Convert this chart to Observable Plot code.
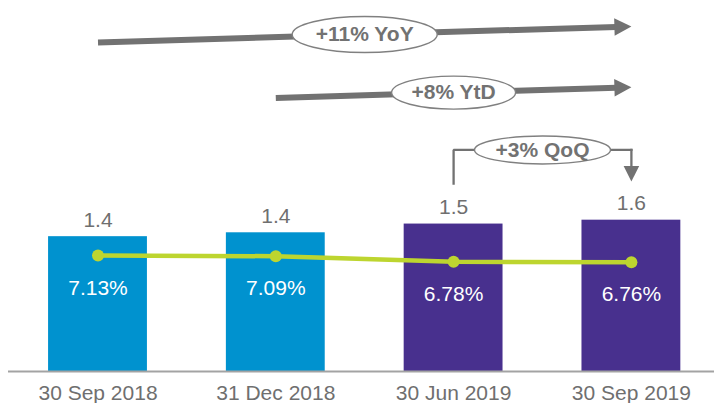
<!DOCTYPE html>
<html>
<head>
<meta charset="utf-8">
<script src="https://cdn.jsdelivr.net/npm/d3@7"></script>
<script src="https://cdn.jsdelivr.net/npm/@observablehq/plot@0.6"></script>
<style>
  html, body { margin: 0; padding: 0; background: #fff; }
  svg { display: block; }
</style>
</head>
<body>
<div id="chart"></div>
<script>
// ---- data ----
const categories = ["30 Sep 2018", "31 Dec 2018", "30 Jun 2019", "30 Sep 2019"];
const values = [1.39, 1.43, 1.52, 1.56];          // bar values (labels rounded to 1 dp)
const rates = [7.13, 7.09, 6.78, 6.76];            // line values, %

// trend annotations (from / to category index, start / end level on the bar axis)
const trendLabels = ["+11% YoY", "+8% YtD"];
const trendFrom = [0, 1];
const trendTo = [3, 3];
const trendStartY = [3.392, 2.820];
const trendEndY = [3.557, 2.931];

// quarter-on-quarter bracket
const qoqLabel = "+3% QoQ";
const qoqFrom = 2;
const qoqTo = 3;
const qoqStartY = 1.938;
const qoqLevel = 2.284;
const qoqTipY = 1.959;

// secondary (hidden) axis for the rate line, mapped onto the bar axis
const rateAxis = d3.scaleLinear().domain([0.72, 7.13]).range([0, 1.196]);

// ---- tables ----
const rows = categories.map((c, i) => ({
  i, category: c, year: c.slice(-4), value: values[i], rate: rates[i]
}));
const trends = trendLabels.map((label, k) => ({
  label, x1: trendFrom[k], x2: trendTo[k], y1: trendStartY[k], y2: trendEndY[k],
  mx: (trendFrom[k] + trendTo[k]) / 2, my: (trendStartY[k] + trendEndY[k]) / 2
}));
const qoqPath = [
  {x: qoqFrom, y: qoqStartY},
  {x: qoqFrom, y: qoqLevel},
  {x: qoqTo, y: qoqLevel}
];
const qoqBox = [{x: (qoqFrom + qoqTo) / 2, y: qoqLevel, label: qoqLabel}];
const qoqDrop = [{x1: qoqTo, y1: qoqLevel, x2: qoqTo, y2: qoqTipY}];

// ---- custom symbols ----
function ellipse(rx, ry) {
  const k = 0.5523;
  return {
    draw(c) {
      c.moveTo(rx, 0);
      c.bezierCurveTo(rx, k * ry, k * rx, ry, 0, ry);
      c.bezierCurveTo(-k * rx, ry, -rx, k * ry, -rx, 0);
      c.bezierCurveTo(-rx, -k * ry, -k * rx, -ry, 0, -ry);
      c.bezierCurveTo(k * rx, -ry, rx, -k * ry, rx, 0);
      c.closePath();
    }
  };
}
function head(len, w) {
  return {
    draw(c) {
      c.moveTo(0, 0);
      c.lineTo(-len, -w / 2);
      c.lineTo(-len, w / 2);
      c.closePath();
    }
  };
}

const grey = "#6f6f6f";
const annoGrey = "#727272";
const lime = "#bdd52f";
const FONT = "'Liberation Sans', Arial, sans-serif";

const bandHalf = 0.278;
const PX_PER_UNIT = 97;
const yTop = 3.7;

const chart = Plot.plot({
  width: 714,
  height: 403,
  marginLeft: 8,
  marginRight: 0,
  marginTop: 12,
  marginBottom: 32,
  style: {fontFamily: FONT, background: "white"},
  x: {domain: [-0.5, 3.5], range: [8.6, 719.8]},
  y: {domain: [0, yTop], range: [371, 371 - PX_PER_UNIT * yTop], axis: null},
  color: {domain: ["2018", "2019"], range: ["#0092cf", "#48308e"]},
  marks: [
    Plot.rectY(rows, {
      x1: d => d.i - bandHalf, x2: d => d.i + bandHalf, y: "value", fill: "year"
    }),
    Plot.ruleY([0], {stroke: "#a3a3a3", strokeWidth: 2}),
    Plot.axisX({
      ticks: categories.map((_, i) => i),
      tickFormat: i => categories[i],
      tickSize: 0,
      tickPadding: 14,
      fontSize: 21,
      fill: grey,
      label: null
    }),
    // value labels above bars
    Plot.text(rows, {
      x: "i", y: "value", text: d => d.value.toFixed(1),
      dy: -16.5, fontSize: 21, fill: grey, lineAnchor: "middle"
    }),
    // rate line
    Plot.line(rows, {x: "i", y: d => rateAxis(d.rate), stroke: lime, strokeWidth: 4.5}),
    Plot.dot(rows, {x: "i", y: d => rateAxis(d.rate), r: 6, fill: lime}),
    Plot.text(rows, {
      x: "i", y: d => rateAxis(d.rate), text: d => d.rate.toFixed(2) + "%",
      dy: 32.5, fontSize: 21, fill: "white", lineAnchor: "middle"
    }),
    // trend arrows
    Plot.arrow(trends, {
      x1: "x1", y1: "y1", x2: "x2", y2: "y2",
      stroke: annoGrey, strokeWidth: 6, headLength: 0, insetEnd: 15,
      strokeLinecap: "butt"
    }),
    Plot.dot(trends, {
      x: "x2", y: "y2", r: 1, symbol: head(17, 17.4), rotate: -1.7,
      fill: annoGrey, stroke: "none"
    }),
    Plot.dot([trends[0]], {
      x: "mx", y: "my", r: 1, symbol: ellipse(72.5, 18),
      fill: "white", stroke: "#808080", strokeWidth: 1.4
    }),
    Plot.dot([trends[1]], {
      x: "mx", y: "my", r: 1, symbol: ellipse(62, 16.5),
      fill: "white", stroke: "#808080", strokeWidth: 1.4
    }),
    Plot.text(trends, {
      x: "mx", y: "my", text: "label", fontSize: 21, fontWeight: "bold",
      fill: annoGrey, lineAnchor: "middle"
    }),
    // QoQ bracket
    Plot.line(qoqPath, {
      x: "x", y: "y", stroke: annoGrey, strokeWidth: 2.3,
      strokeLinejoin: "miter", strokeLinecap: "square"
    }),
    Plot.arrow(qoqDrop, {
      x1: "x1", y1: "y1", x2: "x2", y2: "y2",
      stroke: annoGrey, strokeWidth: 2.3, headLength: 0, insetEnd: 14,
      strokeLinecap: "square"
    }),
    Plot.dot(qoqDrop, {
      x: "x2", y: "y2", r: 1, symbol: head(15.5, 15.6), rotate: 90,
      fill: annoGrey, stroke: "none"
    }),
    Plot.dot(qoqBox, {
      x: "x", y: "y", r: 1, symbol: ellipse(68, 14),
      fill: "white", stroke: "#808080", strokeWidth: 1.4
    }),
    Plot.text(qoqBox, {
      x: "x", y: "y", text: "label", fontSize: 21, fontWeight: "bold",
      fill: annoGrey, lineAnchor: "middle"
    })
  ]
});
document.getElementById("chart").appendChild(chart);
</script>
</body>
</html>
